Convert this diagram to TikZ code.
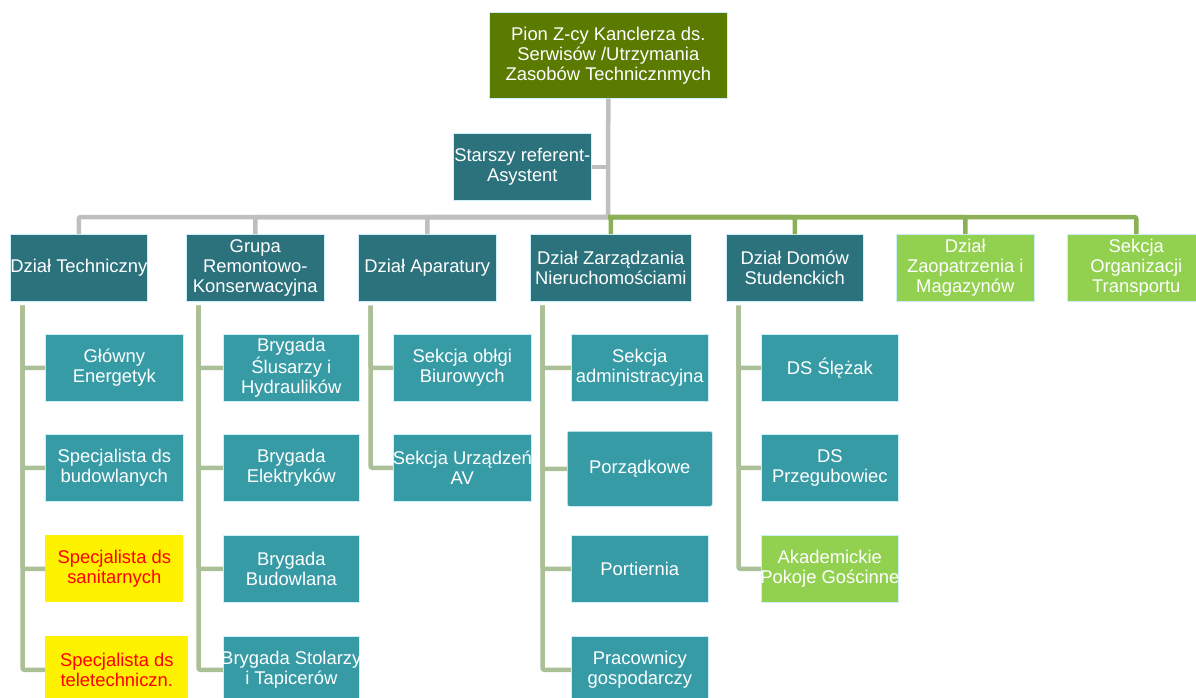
\documentclass[tikz,border=0pt]{standalone}
\usepackage{fontspec}
\setmainfont{Liberation Sans}
\definecolor{olivebox}{RGB}{90,122,0}
\definecolor{headteal}{RGB}{44,114,124}
\definecolor{childteal}{RGB}{55,155,166}
\definecolor{lgreen}{RGB}{146,208,80}
\definecolor{grayline}{RGB}{191,191,191}
\definecolor{greenline}{RGB}{140,176,86}
\definecolor{sageline}{RGB}{172,192,152}
\begin{document}
\begin{tikzpicture}[x=1pt,y=-1pt,
  box/.style={draw=white!80!cyan,line width=0.6pt,anchor=north west,inner xsep=-10pt,inner ysep=0pt,align=center,
    text=white,font=\fontsize{18.4}{20}\selectfont,minimum height=67pt},
  head/.style={box,fill=headteal},
  child/.style={box,fill=childteal},
  gbox/.style={box,fill=lgreen},
  ybox/.style={box,fill=yellow,text=red},
  gl/.style={draw=grayline,line width=4.5pt,rounded corners=2pt},
  grl/.style={draw=greenline,line width=4.5pt,rounded corners=2pt},
  sl/.style={draw=sageline,line width=4.5pt,rounded corners=2pt}]
\useasboundingbox (0,0) rectangle (1196,697);
\fill[white] (0,0) rectangle (1196,697);
% top
\node[box,fill=olivebox,minimum width=238pt,minimum height=86pt] (top) at (489,12)
  {Pion Z-cy Kanclerza ds.\\Serwisów /Utrzymania\\Zasobów Technicznmych};
\node[head,minimum width=138pt] (sr) at (453,133) {Starszy referent-\\Asystent};
% heads
\node[head,minimum width=137pt] (dt) at (10,234) {Dział Techniczny};
\node[head,minimum width=138pt] (grk) at (186,234) {Grupa\\Remontowo-\\Konserwacyjna};
\node[head,minimum width=138pt] (dap) at (358,234) {Dział Aparatury};
\node[head,minimum width=161pt] (dzn) at (530,234) {Dział Zarządzania\\Nieruchomościami};
\node[head,minimum width=137pt] (dds) at (726,234) {Dział Domów\\Studenckich};
\node[gbox,minimum width=138pt] (dzm) at (896,234) {Dział\\Zaopatrzenia i\\Magazynów};
\node[gbox,minimum width=138pt] (sot) at (1067,234) {Sekcja\\Organizacji\\Transportu};
% connectors top
\coordinate (bus) at (608,217);
\draw[gl] (top.south) -- (bus);
\draw[gl] (sr.east) -- (top.south |- sr.east);
\draw[gl] (bus) -| (dt.north);
\draw[gl] (bus) -| (grk.north);
\draw[gl] (bus) -| (dap.north);
\draw[grl] (bus) -| (sot.north);
\draw[grl] (bus) -| (dzn.north);
\draw[grl] (bus) -| (dds.north);
\draw[grl] (bus) -| (dzm.north);
% children DT
\node[child,minimum width=138pt] (dt1) at (45,334) {Główny\\Energetyk};
\node[child,minimum width=138pt] (dt2) at (45,434) {Specjalista ds\\budowlanych};
\node[ybox,draw=none,minimum width=138pt] (dt3) at (45,535) {Specjalista ds\\sanitarnych};
\node[ybox,draw=none,minimum width=143pt] (dt4) at (45,636) {Specjalista ds\\teletechniczn.};
% children GRK
\node[child,minimum width=136pt] (gr1) at (223,334) {Brygada\\Ślusarzy i\\Hydraulików};
\node[child,minimum width=136pt] (gr2) at (223,434) {Brygada\\Elektryków};
\node[child,minimum width=136pt] (gr3) at (223,535) {Brygada\\Budowlana};
\node[child,minimum width=136pt] (gr4) at (223,636) {Brygada Stolarzy\\i Tapicerów};
% children DAP
\node[child,minimum width=138pt] (da1) at (393,334) {Sekcja obłgi\\Biurowych};
\node[child,minimum width=138pt] (da2) at (393,434) {Sekcja Urządzeń\\AV};
% children DZN
\node[child,minimum width=137pt] (dz1) at (571,334) {Sekcja\\administracyjna};
\node[child,minimum width=145pt,minimum height=75pt,rounded corners=2pt] (dz2) at (567,431) {Porządkowe};
\node[child,minimum width=137pt] (dz3) at (571,535) {Portiernia};
\node[child,minimum width=137pt] (dz4) at (571,636) {Pracownicy\\gospodarczy};
% children DDS
\node[child,minimum width=137pt] (dd1) at (761,334) {DS Ślężak};
\node[child,minimum width=137pt] (dd2) at (761,434) {DS\\Przegubowiec};
\node[gbox,minimum width=137pt] (dd3) at (761,535) {Akademickie\\Pokoje Gościnne};
% child connectors
\foreach \p/\kids in {dt/{dt1,dt2,dt3,dt4},grk/{gr1,gr2,gr3,gr4},dap/{da1,da2},dzn/{dz1,dz2,dz3,dz4},dds/{dd1,dd2,dd3}}{
  \foreach \k in \kids {
    \draw[sl] ([xshift=12.5pt,yshift=-4pt]\p.south west) |- (\k.west);
  }
}
\end{tikzpicture}
\end{document}
